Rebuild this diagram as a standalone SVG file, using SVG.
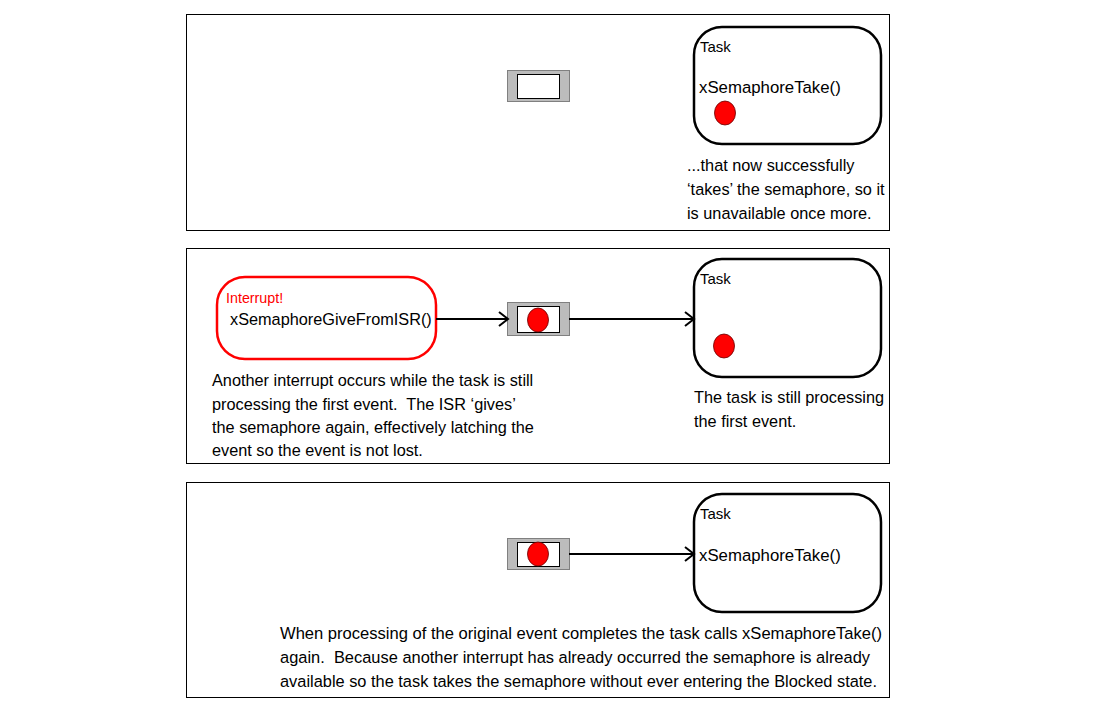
<svg xmlns="http://www.w3.org/2000/svg" width="1112" height="716" viewBox="0 0 1112 716">
<defs>
<marker id="arr" markerUnits="userSpaceOnUse" markerWidth="14" markerHeight="18" refX="10" refY="8" orient="auto">
<path d="M1,1 L10,8 L1,15" fill="none" stroke="#000" stroke-width="2"/>
</marker>
</defs>
<style>
.panel{fill:#fff;stroke:#000;stroke-width:1}
.task{fill:#fff;stroke:#000;stroke-width:2.5}
.isr{fill:#fff;stroke:#f00;stroke-width:2.5}
.semo{fill:#bcbcbc;stroke:#808080;stroke-width:1}
.semi{fill:#fff;stroke:#000;stroke-width:1}
.tok{fill:#f00;stroke:#600;stroke-width:0.8}
text{white-space:pre}
.t{font-family:"Liberation Sans",Arial,sans-serif;font-size:16.3px;fill:#000}
.b{font-family:"Liberation Sans",Arial,sans-serif;font-size:16.8px;fill:#000}
.s{font-family:"Liberation Sans",Arial,sans-serif;font-size:15px;fill:#000}
.r{font-family:"Liberation Sans",Arial,sans-serif;font-size:14.3px;fill:#f00}
.c{fill:none;stroke:#000;stroke-width:2}
</style>
<rect width="1112" height="716" fill="#fff"/>
<g id="panel1">
<rect class="panel" x="186.5" y="14.5" width="703" height="216"/>
</g>
<g id="panel2">
<rect class="panel" x="186.5" y="248.5" width="703" height="215"/>
</g>
<g id="panel3">
<rect class="panel" x="186.5" y="482.5" width="703" height="215"/>
</g>
<g id="sem1">
<rect class="semo" x="507.5" y="70.5" width="62" height="31"/>
<rect class="semi" x="517.5" y="74.5" width="42" height="24"/>
</g>
<g id="task1">
<rect class="task" x="694" y="27" width="187" height="117" rx="28" ry="28"/>
<text class="s" x="700" y="52">Task</text>
<text class="b" x="699" y="93">xSemaphoreTake()</text>
<ellipse class="tok" cx="725" cy="113" rx="10.5" ry="12"/>
</g>
<g id="note1">
<text class="t" x="687" y="171">...that now successfully</text>
<text class="t" x="687" y="195">‘takes’ the semaphore, so it</text>
<text class="t" x="687" y="219">is unavailable once more.</text>
</g>
<g id="isr2">
<rect class="isr" x="217" y="277" width="219" height="82" rx="28" ry="28"/>
<text class="r" x="226" y="303">Interrupt!</text>
<text class="t" x="230" y="325">xSemaphoreGiveFromISR()</text>
</g>
<g id="sem2">
<rect class="semo" x="507.5" y="302.5" width="62" height="33"/>
<rect class="semi" x="517.5" y="306.5" width="42" height="26"/>
<ellipse class="tok" cx="538" cy="320" rx="10.5" ry="12"/>
</g>
<g id="task2">
<rect class="task" x="694" y="259" width="187" height="118" rx="28" ry="28"/>
<text class="s" x="700" y="284">Task</text>
<ellipse class="tok" cx="724" cy="346" rx="10.5" ry="12"/>
</g>
<g id="note2a">
<text class="t" x="212" y="386">Another interrupt occurs while the task is still</text>
<text class="t" x="212" y="410">processing the first event.  The ISR ‘gives’</text>
<text class="t" x="212" y="433">the semaphore again, effectively latching the</text>
<text class="t" x="212" y="456">event so the event is not lost.</text>
</g>
<g id="note2b">
<text class="t" x="694" y="403">The task is still processing</text>
<text class="t" x="694" y="427">the first event.</text>
</g>
<g id="sem3">
<rect class="semo" x="507.5" y="538.5" width="62" height="31"/>
<rect class="semi" x="517.5" y="542.5" width="42" height="24"/>
<ellipse class="tok" cx="538" cy="554" rx="10.5" ry="12"/>
</g>
<g id="task3">
<rect class="task" x="694" y="494" width="187" height="118" rx="28" ry="28"/>
<text class="s" x="700" y="519">Task</text>
<text class="b" x="699" y="561">xSemaphoreTake()</text>
</g>
<g id="note3">
<text class="t" x="280" y="639" textLength="602" lengthAdjust="spacingAndGlyphs">When processing of the original event completes the task calls xSemaphoreTake()</text>
<text class="t" x="280" y="663" textLength="590" lengthAdjust="spacingAndGlyphs">again.  Because another interrupt has already occurred the semaphore is already</text>
<text class="t" x="280" y="687" textLength="597" lengthAdjust="spacingAndGlyphs">available so the task takes the semaphore without ever entering the Blocked state.</text>
</g>
<g id="connectors">
<line class="c" x1="436" y1="319" x2="508" y2="319" marker-end="url(#arr)"/>
<line class="c" x1="569" y1="319" x2="694" y2="319" marker-end="url(#arr)"/>
<line class="c" x1="569" y1="554" x2="694" y2="554" marker-end="url(#arr)"/>
</g>
</svg>
